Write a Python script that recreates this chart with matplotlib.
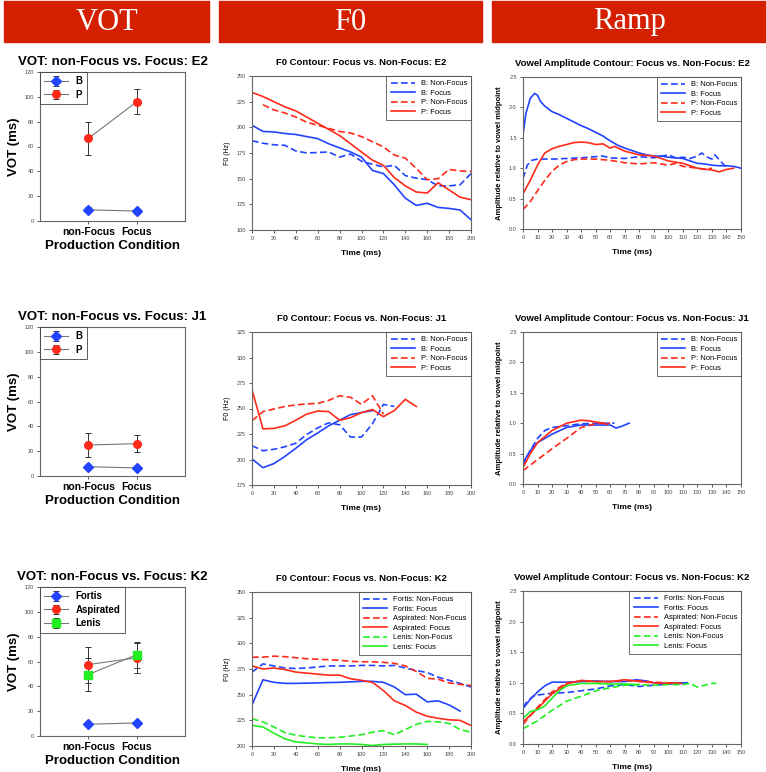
import matplotlib
matplotlib.use("Agg")
import matplotlib.pyplot as plt
from matplotlib.patches import Rectangle

plt.rcParams['font.family'] = ['Liberation Sans', 'DejaVu Sans']

# ---- VOT data (ms), means and error bars
vot_conds = ["non-Focus", "Focus"]
vot_e2_b = [9, 8]
vot_e2_b_err = [2, 2]
vot_e2_p = [66.5, 96]
vot_e2_p_err = [13.5, 10]
vot_j1_b = [7.5, 6.5]
vot_j1_b_err = [1.5, 1.5]
vot_j1_p = [25, 26]
vot_j1_p_err = [10, 7]
vot_k2_fortis = [9.5, 10.5]
vot_k2_fortis_err = [1.5, 1.5]
vot_k2_asp = [57.5, 63]
vot_k2_asp_err = [14.5, 12]
vot_k2_lenis = [49.5, 65.5]
vot_k2_lenis_err = [13.5, 10.5]

# ---- F0 contours (Hz)
f0_t = list(range(0, 201, 10))
f0_e2_b_nf = [187, 184.5, 183, 182.5, 177, 175, 175.5, 176, 171, 174, 167, 164, 161.5, 163, 153, 150.5, 149, 143, 143, 144, 155]
f0_e2_b_f = [202, 196, 195.5, 194, 193, 191, 189, 184, 180, 176, 171, 158, 155, 144, 131, 124, 126, 122, 121, 119.5, 110]
f0_e2_p_nf_t = list(range(10, 201, 10))
f0_e2_p_nf = [222, 217, 214, 210, 205, 202, 199, 196, 194.5, 191, 186, 181, 173, 170, 160, 149, 150, 159, 157.5, 157]
f0_e2_p_f = [234, 230, 225, 220, 216, 210, 204, 198, 192, 184, 176, 168, 163, 151, 143, 137, 136, 146, 139, 132, 129.5]

f0_j1_b_nf_t = list(range(0, 131, 10))
f0_j1_b_nf = [213.5, 208.6, 210, 212.5, 216, 224.5, 231, 236, 234, 222, 222, 235, 254, 252]
f0_j1_b_f_t = list(range(0, 111, 10))
f0_j1_b_f = [200.5, 192, 196, 203, 211, 219.5, 226, 233, 238.5, 244, 246, 248]
f0_j1_p_nf_t = list(range(0, 121, 10))
f0_j1_p_nf = [238, 247, 249.5, 252, 253.5, 254.5, 255, 258, 262.5, 261, 254, 262.5, 244.5]
f0_j1_p_f_t = list(range(0, 151, 10))
f0_j1_p_f = [268.5, 230, 230.5, 233, 238.5, 244.5, 247.5, 247, 238.5, 241, 246, 249, 242, 248, 259, 252]

f0_k2_fo_nf = [272, 280, 278, 276, 275.5, 276, 277, 278, 278, 278, 278.5, 278.5, 278, 278.5, 276, 273.5, 271.5, 267, 264, 261, 257.5]
f0_k2_fo_f_t = list(range(0, 191, 10))
f0_k2_fo_f = [240, 264.5, 262, 261, 261, 261.2, 261.5, 261.8, 262, 262.5, 263, 263, 262, 257.5, 250, 250.5, 243, 244, 240, 234]
f0_k2_as_nf = [286.5, 286.5, 287.5, 287, 286, 285, 284.5, 284, 283.5, 282.5, 282, 282, 281.5, 280.5, 278, 272.5, 266, 265, 261.5, 260, 259]
f0_k2_as_f = [278, 275, 276, 274.5, 272, 271, 270, 269, 269, 265.5, 264, 262, 254, 244, 239.5, 233, 229, 227, 225.5, 225, 220]
f0_k2_le_nf = [226.5, 223.5, 218.5, 213, 210.5, 209, 208, 208, 208.5, 209.7, 211, 213.5, 215, 211, 216, 221, 224, 223.5, 222, 216, 213.5]
f0_k2_le_f_t = list(range(0, 161, 10))
f0_k2_le_f = [220, 218.5, 212.5, 207, 204, 203, 202, 201.5, 202, 202, 201.5, 200.5, 201.5, 201.8, 202, 202, 201.5]

# ---- Vowel amplitude contours (relative to midpoint)
amp_e2_b_nf_t = [0, 3, 6, 10, 20, 30, 40, 50, 55, 60, 70, 80, 90, 100, 105, 110, 115, 120, 123, 127, 130, 132, 135, 138, 140]
amp_e2_b_nf = [0.83, 1.05, 1.13, 1.15, 1.15, 1.16, 1.17, 1.19, 1.2, 1.17, 1.16, 1.19, 1.17, 1.22, 1.17, 1.18, 1.16, 1.2, 1.25, 1.18, 1.15, 1.22, 1.14, 1.06, 1.02]
amp_e2_b_f_t = [0, 2, 5, 8, 10, 12, 15, 20, 25, 30, 35, 40, 45, 50, 55, 60, 65, 70, 75, 80, 85, 90, 95, 100, 105, 110, 115, 120, 125, 130, 135, 140, 145, 150]
amp_e2_b_f = [1.55, 1.9, 2.15, 2.23, 2.2, 2.1, 2.02, 1.93, 1.88, 1.82, 1.76, 1.7, 1.65, 1.59, 1.53, 1.45, 1.38, 1.33, 1.29, 1.25, 1.22, 1.2, 1.2, 1.18, 1.17, 1.16, 1.12, 1.08, 1.07, 1.05, 1.04, 1.04, 1.03, 1.0]
amp_e2_p_nf_t = [0, 5, 10, 15, 20, 25, 30, 35, 40, 50, 60, 70, 80, 90, 100, 105, 110, 120, 125, 130]
amp_e2_p_nf = [0.32, 0.45, 0.63, 0.8, 0.95, 1.05, 1.11, 1.14, 1.15, 1.15, 1.13, 1.09, 1.07, 1.09, 1.05, 1.08, 1.03, 1.0, 0.98, 1.0]
amp_e2_p_f_t = [0, 5, 10, 15, 20, 25, 30, 35, 40, 45, 50, 55, 60, 63, 70, 80, 90, 100, 110, 120, 130, 135, 140, 145]
amp_e2_p_f = [0.58, 0.8, 1.05, 1.25, 1.32, 1.36, 1.39, 1.42, 1.43, 1.42, 1.39, 1.4, 1.33, 1.36, 1.28, 1.22, 1.2, 1.12, 1.08, 1.0, 0.97, 0.94, 0.98, 1.0]

amp_j1_b_nf_t = [0, 5, 10, 15, 20, 30, 40, 50, 60, 63]
amp_j1_b_nf = [0.3, 0.55, 0.75, 0.88, 0.93, 0.96, 0.99, 1.0, 1.0, 1.0]
amp_j1_b_f_t = [0, 5, 10, 20, 30, 40, 50, 60, 64, 68, 73]
amp_j1_b_f = [0.35, 0.55, 0.68, 0.82, 0.93, 0.97, 0.97, 0.97, 0.92, 0.95, 1.0]
amp_j1_p_nf_t = [0, 10, 20, 30, 40, 50, 55, 60]
amp_j1_p_nf = [0.22, 0.4, 0.58, 0.75, 0.93, 0.99, 1.0, 1.0]
amp_j1_p_f_t = [0, 5, 10, 20, 30, 40, 45, 50, 55, 58]
amp_j1_p_f = [0.27, 0.5, 0.68, 0.88, 1.0, 1.05, 1.04, 1.02, 1.0, 0.98]

amp_k2_fo_nf_t = [0, 3, 7, 10, 20, 30, 40, 50, 60, 70, 80, 90, 100, 110]
amp_k2_fo_nf = [0.6, 0.7, 0.78, 0.8, 0.83, 0.84, 0.87, 0.9, 0.95, 0.97, 0.94, 0.96, 0.98, 0.99]
amp_k2_fo_f_t = [0, 5, 10, 15, 20, 30, 40, 50, 60, 70, 78, 85, 90, 100, 110, 113]
amp_k2_fo_f = [0.58, 0.73, 0.85, 0.95, 1.01, 1.01, 1.02, 1.03, 1.02, 1.02, 1.05, 1.03, 1.0, 0.99, 1.0, 1.0]
amp_k2_as_nf_t = [0, 10, 20, 30, 40, 50, 60, 70, 80, 90, 100, 110]
amp_k2_as_nf = [0.32, 0.6, 0.85, 1.0, 1.03, 1.02, 1.02, 1.04, 1.03, 1.01, 1.0, 0.99]
amp_k2_as_f_t = [0, 10, 20, 30, 40, 50, 60, 70, 80, 90, 100, 105]
amp_k2_as_f = [0.36, 0.58, 0.82, 0.98, 1.04, 1.02, 1.02, 1.05, 1.02, 1.0, 0.99, 1.0]
amp_k2_le_nf_t = [0, 10, 20, 30, 40, 50, 60, 70, 80, 90, 100, 110, 115, 120, 125, 130, 133]
amp_k2_le_nf = [0.25, 0.38, 0.55, 0.7, 0.78, 0.87, 0.92, 0.96, 0.97, 0.96, 0.97, 0.97, 0.99, 0.93, 0.96, 0.99, 0.99]
amp_k2_le_f_t = [0, 5, 10, 15, 20, 25, 30, 40, 50, 60, 70, 80]
amp_k2_le_f = [0.42, 0.53, 0.56, 0.62, 0.75, 0.87, 0.95, 0.99, 0.99, 0.98, 0.98, 0.97]

BLUE = '#2244ff'
RED = '#ff2a1a'
GREEN = '#22ee22'
W, H = 766, 772

fig = plt.figure(figsize=(W / 100, H / 100), dpi=100)


def box(x0, y0, x1, y1):
    # pixel box (top-left origin) -> figure fraction
    return [x0 / W, 1 - y1 / H, (x1 - x0) / W, (y1 - y0) / H]


# header bars
for (x0, x1, txt) in [(4, 209, "VOT"), (219, 482, "F0"), (492, 766, "Ramp")]:
    fig.patches.append(Rectangle((x0 / W, 1 - 42 / H), (x1 - x0) / W, 41 / H,
                                 transform=fig.transFigure, color='#d42000'))
    fig.text((x0 + x1) / 2 / W, 1 - 22 / H, txt, color='white', fontsize=22,
             family='Liberation Serif', ha='center', va='center')


def style_axes(ax):
    for s in ax.spines.values():
        s.set_color('#666666')
        s.set_linewidth(0.8)
    ax.tick_params(direction='out', length=2.5, width=0.6, labelsize=4,
                   colors='#444444', pad=2)


def vot_panel(rect, title, series):
    ax = fig.add_axes(box(*rect))
    style_axes(ax)
    for vals, err, col, mk, lab in series:
        ax.errorbar([1, 2], vals, yerr=err, color='#777777', lw=0.8,
                    ecolor='#333333', elinewidth=0.7, capsize=2.5, capthick=0.7,
                    marker=mk, ms=5.5, mfc=col, mec=col, label=lab)
    ax.set_xlim(0, 3)
    ax.set_ylim(0, 120)
    ax.set_yticks(range(0, 121, 20))
    ax.set_xticks([1, 2])
    ax.set_xticklabels(vot_conds, fontsize=7.5, fontweight='bold', color='black')
    ax.set_title(title, fontsize=9.5, fontweight='bold', pad=5)
    ax.set_ylabel("VOT (ms)", fontsize=9.5, fontweight='bold', labelpad=3)
    ax.set_xlabel("Production Condition", fontsize=9.5, fontweight='bold', labelpad=2)
    leg = ax.legend(loc='upper left', fancybox=False, borderaxespad=0,
                    handlelength=2.4, borderpad=0.45, labelspacing=0.35,
                    prop={'weight': 'bold', 'size': 7})
    leg.get_frame().set_edgecolor('#333333')
    leg.get_frame().set_linewidth(0.7)


def line_panel(rect, title, series, xlim, xticks, ylim, yticks, ylabel, yfmt, ylab_bold, ylab_size):
    ax = fig.add_axes(box(*rect))
    style_axes(ax)
    for t, v, col, dashed, lab in series:
        if dashed:
            ax.plot(t, v, color=col, lw=1.2, dashes=(4, 2), label=lab)
        else:
            ax.plot(t, v, color=col, lw=1.2, label=lab)
    ax.set_xlim(*xlim)
    ax.set_ylim(*ylim)
    ax.set_xticks(xticks)
    ax.set_yticks(yticks)
    ax.set_yticklabels([yfmt.format(y) for y in yticks])
    ax.set_title(title, fontsize=6.8, fontweight='bold', pad=8)
    ax.set_xlabel("Time (ms)", fontsize=6, fontweight='bold', labelpad=6)
    ax.set_ylabel(ylabel, fontsize=ylab_size, fontweight='bold' if ylab_bold else 'normal',
                  labelpad=4)
    leg = ax.legend(loc='upper right', fontsize=5.4, fancybox=False, borderaxespad=0,
                    handlelength=3.2, borderpad=0.55, labelspacing=0.3)
    leg.get_frame().set_edgecolor('#444444')
    leg.get_frame().set_linewidth(0.7)


# ---- VOT column
vot_panel((40, 72, 185, 221), "VOT: non-Focus vs. Focus: E2",
          [(vot_e2_b, vot_e2_b_err, BLUE, 'D', 'B'),
           (vot_e2_p, vot_e2_p_err, RED, 'o', 'P')])
vot_panel((40, 327, 185, 476), "VOT: non-Focus vs. Focus: J1",
          [(vot_j1_b, vot_j1_b_err, BLUE, 'D', 'B'),
           (vot_j1_p, vot_j1_p_err, RED, 'o', 'P')])
vot_panel((40, 587, 185, 736), "VOT: non-Focus vs. Focus: K2",
          [(vot_k2_fortis, vot_k2_fortis_err, BLUE, 'D', 'Fortis'),
           (vot_k2_asp, vot_k2_asp_err, RED, 'o', 'Aspirated'),
           (vot_k2_lenis, vot_k2_lenis_err, GREEN, 's', 'Lenis')])

# ---- F0 column
f0_xt = list(range(0, 201, 20))
line_panel((252, 76, 471, 230), "F0 Contour: Focus vs. Non-Focus: E2",
           [(f0_t, f0_e2_b_nf, BLUE, True, 'B: Non-Focus'),
            (f0_t, f0_e2_b_f, BLUE, False, 'B: Focus'),
            (f0_e2_p_nf_t, f0_e2_p_nf, RED, True, 'P: Non-Focus'),
            (f0_t, f0_e2_p_f, RED, False, 'P: Focus')],
           (0, 200), f0_xt, (100, 250), list(range(100, 251, 25)), "F0 (Hz)", "{:d}", False, 5)
line_panel((252, 332, 471, 485), "F0 Contour: Focus vs. Non-Focus: J1",
           [(f0_j1_b_nf_t, f0_j1_b_nf, BLUE, True, 'B: Non-Focus'),
            (f0_j1_b_f_t, f0_j1_b_f, BLUE, False, 'B: Focus'),
            (f0_j1_p_nf_t, f0_j1_p_nf, RED, True, 'P: Non-Focus'),
            (f0_j1_p_f_t, f0_j1_p_f, RED, False, 'P: Focus')],
           (0, 200), f0_xt, (175, 325), list(range(175, 326, 25)), "F0 (Hz)", "{:d}", False, 5)
line_panel((252, 592, 471, 746), "F0 Contour: Focus vs. Non-Focus: K2",
           [(f0_t, f0_k2_fo_nf, BLUE, True, 'Fortis: Non-Focus'),
            (f0_k2_fo_f_t, f0_k2_fo_f, BLUE, False, 'Fortis: Focus'),
            (f0_t, f0_k2_as_nf, RED, True, 'Aspirated: Non-Focus'),
            (f0_t, f0_k2_as_f, RED, False, 'Aspirated: Focus'),
            (f0_t, f0_k2_le_nf, GREEN, True, 'Lenis: Non-Focus'),
            (f0_k2_le_f_t, f0_k2_le_f, GREEN, False, 'Lenis: Focus')],
           (0, 200), f0_xt, (200, 350), list(range(200, 351, 25)), "F0 (Hz)", "{:d}", False, 5)

# ---- Ramp column
amp_xt = list(range(0, 151, 10))
amp_yt = [0, 0.5, 1.0, 1.5, 2.0, 2.5]
amp_lab = "Amplitude relative to vowel midpoint"
line_panel((523, 77, 741, 229), "Vowel Amplitude Contour: Focus vs. Non-Focus: E2",
           [(amp_e2_b_nf_t, amp_e2_b_nf, BLUE, True, 'B: Non-Focus'),
            (amp_e2_b_f_t, amp_e2_b_f, BLUE, False, 'B: Focus'),
            (amp_e2_p_nf_t, amp_e2_p_nf, RED, True, 'P: Non-Focus'),
            (amp_e2_p_f_t, amp_e2_p_f, RED, False, 'P: Focus')],
           (0, 150), amp_xt, (0, 2.5), amp_yt, amp_lab, "{:.1f}", True, 5.5)
line_panel((523, 332, 741, 484), "Vowel Amplitude Contour: Focus vs. Non-Focus: J1",
           [(amp_j1_b_nf_t, amp_j1_b_nf, BLUE, True, 'B: Non-Focus'),
            (amp_j1_b_f_t, amp_j1_b_f, BLUE, False, 'B: Focus'),
            (amp_j1_p_nf_t, amp_j1_p_nf, RED, True, 'P: Non-Focus'),
            (amp_j1_p_f_t, amp_j1_p_f, RED, False, 'P: Focus')],
           (0, 150), amp_xt, (0, 2.5), amp_yt, amp_lab, "{:.1f}", True, 5.5)
line_panel((523, 591, 741, 744), "Vowel Amplitude Contour: Focus vs. Non-Focus: K2",
           [(amp_k2_fo_nf_t, amp_k2_fo_nf, BLUE, True, 'Fortis: Non-Focus'),
            (amp_k2_fo_f_t, amp_k2_fo_f, BLUE, False, 'Fortis: Focus'),
            (amp_k2_as_nf_t, amp_k2_as_nf, RED, True, 'Aspirated: Non-Focus'),
            (amp_k2_as_f_t, amp_k2_as_f, RED, False, 'Aspirated: Focus'),
            (amp_k2_le_nf_t, amp_k2_le_nf, GREEN, True, 'Lenis: Non-Focus'),
            (amp_k2_le_f_t, amp_k2_le_f, GREEN, False, 'Lenis: Focus')],
           (0, 150), amp_xt, (0, 2.5), amp_yt, amp_lab, "{:.1f}", True, 5.5)

fig.savefig("out.png", dpi=100)
